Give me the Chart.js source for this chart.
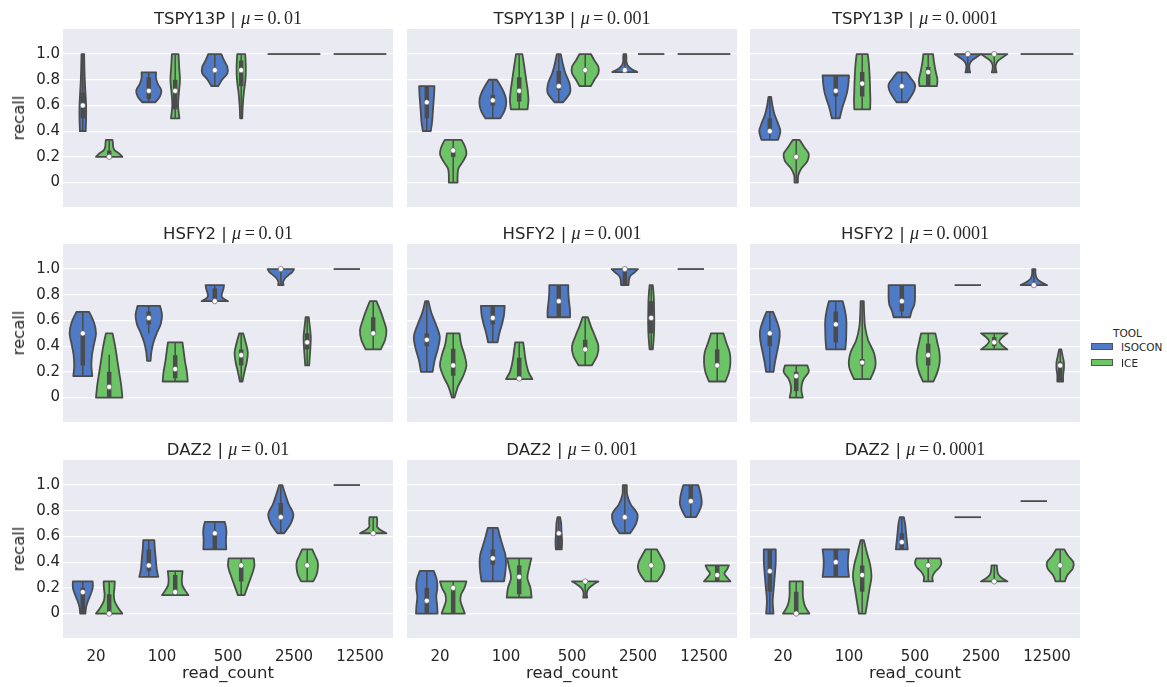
<!DOCTYPE html>
<html>
<head>
<meta charset="utf-8">
<script src="https://cdn.jsdelivr.net/npm/chart.js@4.4.1/dist/chart.umd.min.js"></script>
<style>
  body { margin: 0; background: #fff; }
  #fig { position: relative; width: 1167px; height: 687px; overflow: hidden; font-family: 'DejaVu Sans', sans-serif; color: #262626; }
  #fig canvas { position: absolute; }
  .txt { position: absolute; white-space: nowrap; line-height: 20px; }
  .title { font-size: 16.5px; transform: translateX(-50%); }
  .title .m { font-family: 'Liberation Serif', serif; font-size: 18px; }
  .ylab { font-size: 16.5px; transform: translate(-50%, -50%) rotate(-90deg); }
  .xlab { font-size: 16.5px; transform: translate(-50%, -50%); }
  .leg { font-size: 10.5px; transform: translateY(-50%); }
  .legbox { position: absolute; width: 22px; height: 7px; border: 0.8px solid #555; box-sizing: border-box; }
</style>
</head>
<body>
<div id="fig"></div>
<script>
const readCounts = ['20', '100', '500', '2500', '12500'];
const genes = ['TSPY13P', 'HSFY2', 'DAZ2'];
const mus = ['0.01', '0.001', '0.0001'];
const tools = ['ISOCON', 'ICE'];
const toolColors = ['#4f7ac6', '#6cc467'];
const yTicks = [0, 0.2, 0.4, 0.6, 0.8, 1.0];

// each violin: [min, max, q1, median, q3, half widths from min to max (1 = full), optional whiskers]
// a violin with min == max is a single value, drawn as a flat line
const tspy01Isocon = [
  [0.4, 1.0, 0.5, 0.6, 0.7, [0.22, 0.25, 0.25, 0.2, 0.15, 0.12, 0.1]],
  [0.625, 0.857, 0.65, 0.714, 0.82, [0.5, 0.85, 0.95, 0.7, 0.55, 0.55]],
  [0.75, 1.0, 0.875, 0.875, 0.875, [0.25, 0.55, 0.95, 0.95, 0.7, 0.5]],
  [1, 1],
  [1, 1]
];
const tspy01Ice = [
  [0.2, 0.333, 0.2, 0.2, 0.25, [1.0, 0.75, 0.4, 0.3, 0.28, 0.25]],
  [0.5, 1.0, 0.57, 0.714, 0.8, [0.32, 0.22, 0.28, 0.36, 0.3, 0.25]],
  [0.5, 1.0, 0.75, 0.875, 0.95, [0.08, 0.12, 0.2, 0.32, 0.35, 0.3]],
  [1, 1],
  [1, 1]
];
const tspy001Isocon = [
  [0.4, 0.75, 0.5, 0.625, 0.75, [0.3, 0.4, 0.45, 0.5, 0.55, 0.58]],
  [0.5, 0.8, 0.6, 0.64, 0.68, [0.57, 0.85, 1.0, 1.0, 0.85, 0.6, 0.3]],
  [0.625, 1.0, 0.72, 0.75, 0.87, [0.32, 0.85, 0.8, 0.5, 0.3, 0.15]],
  [0.86, 1.0, 0.875, 0.875, 0.875, [0.95, 0.45, 0.2, 0.12, 0.12, 0.1]],
  [1, 1]
];
const tspy001Ice = [
  [0.0, 0.333, 0.2, 0.25, 0.25, [0.33, 0.33, 0.4, 0.75, 1.0, 0.9, 0.63]],
  [0.57, 1.0, 0.63, 0.714, 0.82, [0.63, 0.7, 0.65, 0.55, 0.45, 0.35, 0.24]],
  [0.75, 1.0, 0.875, 0.875, 0.875, [0.42, 0.7, 1.0, 1.0, 0.7, 0.43]],
  [1, 1],
  [1, 1]
];
const tspy0001Isocon = [
  [0.333, 0.667, 0.4, 0.4, 0.5, [0.63, 0.8, 0.6, 0.35, 0.2, 0.1]],
  [0.5, 0.833, 0.67, 0.714, 0.83, [0.3, 0.45, 0.65, 0.85, 0.95, 1.0]],
  [0.625, 0.857, 0.75, 0.75, 0.75, [0.4, 0.7, 0.95, 1.0, 0.7, 0.35]],
  [0.857, 1.0, 1.0, 1.0, 1.0, [0.18, 0.12, 0.12, 0.25, 0.6, 1.0]],
  [1, 1]
];
const tspy0001Ice = [
  [0.0, 0.333, 0.18, 0.2, 0.2, [0.13, 0.15, 0.4, 0.85, 0.95, 0.6, 0.25]],
  [0.57, 1.0, 0.67, 0.77, 0.86, [0.6, 0.62, 0.6, 0.58, 0.55, 0.5, 0.42]],
  [0.75, 1.0, 0.75, 0.86, 0.9, [0.66, 0.7, 0.6, 0.5, 0.42, 0.37]],
  [0.857, 1.0, 1.0, 1.0, 1.0, [0.18, 0.12, 0.12, 0.25, 0.6, 1.0]],
  [1, 1]
];
const hsfy01Isocon = [
  [0.167, 0.667, 0.25, 0.5, 0.5, [0.72, 0.65, 0.7, 0.85, 1.0, 0.85, 0.48]],
  [0.286, 0.714, 0.57, 0.62, 0.67, [0.13, 0.2, 0.35, 0.6, 0.9, 1.0, 0.85], [0.5, 0.714]],
  [0.75, 0.875, 0.75, 0.75, 0.85, [1.0, 0.55, 0.55, 0.65, 0.7]],
  [0.875, 1.0, 1.0, 1.0, 1.0, [0.2, 0.18, 0.3, 0.55, 0.85, 1.0]],
  [1, 1]
];
const hsfy01Ice = [
  [0.0, 0.5, 0.0, 0.083, 0.2, [1.0, 0.9, 0.75, 0.6, 0.45, 0.25], [0, 0.333]],
  [0.125, 0.43, 0.15, 0.222, 0.33, [0.95, 0.88, 0.75, 0.65, 0.55]],
  [0.125, 0.5, 0.25, 0.33, 0.375, [0.1, 0.25, 0.42, 0.5, 0.35, 0.15]],
  [0.25, 0.625, 0.375, 0.43, 0.5, [0.15, 0.2, 0.25, 0.27, 0.2, 0.12]],
  [0.375, 0.75, 0.5, 0.5, 0.625, [0.57, 0.9, 1.0, 0.8, 0.55, 0.25]]
];
const hsfy001Isocon = [
  [0.2, 0.75, 0.4, 0.45, 0.5, [0.44, 0.6, 0.85, 0.98, 0.7, 0.35, 0.12]],
  [0.43, 0.714, 0.57, 0.62, 0.714, [0.36, 0.5, 0.7, 0.85, 0.9]],
  [0.625, 0.875, 0.625, 0.75, 0.875, [0.85, 0.85, 0.8, 0.75, 0.72, 0.72]],
  [0.875, 1.0, 0.875, 1.0, 1.0, [0.28, 0.3, 0.33, 0.45, 0.75, 1.0]],
  [1, 1]
];
const hsfy001Ice = [
  [0.0, 0.5, 0.17, 0.25, 0.38, [0.1, 0.35, 0.75, 1.0, 0.85, 0.6, 0.48]],
  [0.143, 0.43, 0.16, 0.148, 0.31, [1.0, 0.7, 0.55, 0.45, 0.38, 0.3]],
  [0.25, 0.625, 0.375, 0.375, 0.45, [0.5, 0.9, 1.0, 0.75, 0.45, 0.2]],
  [0.375, 0.875, 0.5, 0.62, 0.75, [0.12, 0.2, 0.23, 0.22, 0.2, 0.12]],
  [0.125, 0.5, 0.25, 0.25, 0.375, [0.62, 0.9, 1.0, 0.95, 0.7, 0.47]]
];
const hsfy0001Isocon = [
  [0.2, 0.667, 0.4, 0.5, 0.5, [0.28, 0.4, 0.55, 0.7, 0.75, 0.55, 0.25]],
  [0.375, 0.75, 0.43, 0.57, 0.67, [0.72, 0.78, 0.8, 0.8, 0.7, 0.52]],
  [0.625, 0.875, 0.67, 0.75, 0.875, [0.62, 0.75, 0.95, 1.0, 1.0, 1.0]],
  [0.875, 0.875],
  [0.875, 1.0, 0.875, 0.875, 0.875, [1.0, 0.55, 0.25, 0.15, 0.12, 0.12]]
];
const hsfy0001Ice = [
  [0.0, 0.25, 0.05, 0.167, 0.2, [0.5, 0.4, 0.42, 0.6, 0.95, 0.85]],
  [0.143, 0.75, 0.25, 0.273, 0.3, [0.62, 1.0, 0.9, 0.45, 0.22, 0.15, 0.12]],
  [0.125, 0.5, 0.25, 0.33, 0.42, [0.4, 0.7, 0.87, 0.85, 0.7, 0.54]],
  [0.375, 0.5, 0.4, 0.43, 0.47, [1.0, 0.6, 0.38, 0.6, 1.0]],
  [0.125, 0.375, 0.125, 0.25, 0.28, [0.22, 0.22, 0.28, 0.28, 0.18, 0.08]]
];
const daz01Isocon = [
  [0.0, 0.25, 0.0, 0.167, 0.2, [0.2, 0.25, 0.4, 0.6, 0.75, 0.75]],
  [0.286, 0.571, 0.33, 0.375, 0.5, [0.72, 0.6, 0.55, 0.5, 0.45, 0.42]],
  [0.5, 0.714, 0.5, 0.625, 0.625, [0.87, 0.85, 0.85, 0.88, 0.85, 0.75]],
  [0.625, 1.0, 0.75, 0.75, 0.86, [0.25, 0.75, 0.95, 0.6, 0.35, 0.12]],
  [1, 1]
];
const daz01Ice = [
  [0.0, 0.25, 0.0, 0.0, 0.15, [1.0, 0.65, 0.4, 0.35, 0.4, 0.42]],
  [0.143, 0.33, 0.15, 0.167, 0.3, [1.0, 0.75, 0.55, 0.5, 0.52, 0.56]],
  [0.143, 0.43, 0.25, 0.375, 0.375, [0.25, 0.45, 0.65, 0.85, 1.0, 0.95]],
  [0.25, 0.5, 0.375, 0.375, 0.375, [0.45, 0.7, 0.8, 0.8, 0.6, 0.38]],
  [0.625, 0.75, 0.625, 0.625, 0.625, [1.0, 0.55, 0.3, 0.3, 0.3, 0.28]]
];
const daz001Isocon = [
  [0.0, 0.333, 0.0, 0.1, 0.2, [0.82, 0.78, 0.72, 0.8, 0.75, 0.52]],
  [0.25, 0.667, 0.38, 0.43, 0.5, [0.85, 0.95, 1.0, 0.95, 0.75, 0.55, 0.38]],
  [0.5, 0.75, 0.5, 0.625, 0.625, [0.22, 0.25, 0.23, 0.2, 0.18, 0.1]],
  [0.625, 1.0, 0.75, 0.75, 0.75, [0.4, 0.85, 0.95, 0.45, 0.18, 0.15]],
  [0.75, 1.0, 0.86, 0.875, 1.0, [0.38, 0.65, 0.82, 0.8, 0.7, 0.56]]
];
const daz001Ice = [
  [0.0, 0.25, 0.0, 0.2, 0.2, [0.88, 0.7, 0.55, 0.6, 0.85, 1.0]],
  [0.125, 0.429, 0.15, 0.286, 0.375, [0.94, 0.85, 0.62, 0.75, 0.92]],
  [0.125, 0.25, 0.25, 0.25, 0.25, [0.15, 0.12, 0.15, 0.3, 0.6, 1.0]],
  [0.25, 0.5, 0.375, 0.375, 0.375, [0.44, 0.8, 1.0, 0.95, 0.7, 0.42]],
  [0.25, 0.375, 0.25, 0.3, 0.375, [1.0, 0.75, 0.55, 0.75, 0.88]]
];
const daz0001Isocon = [
  [0.0, 0.5, 0.17, 0.33, 0.5, [0.28, 0.22, 0.3, 0.38, 0.45, 0.45]],
  [0.286, 0.5, 0.286, 0.4, 0.5, [1.0, 0.95, 0.92, 0.92, 0.95, 1.0]],
  [0.5, 0.75, 0.5, 0.556, 0.625, [0.45, 0.4, 0.35, 0.3, 0.25, 0.15]],
  [0.75, 0.75],
  [0.875, 0.875]
];
const daz0001Ice = [
  [0.0, 0.25, 0.0, 0.0, 0.17, [1.0, 0.7, 0.55, 0.5, 0.5, 0.5]],
  [0.0, 0.571, 0.17, 0.3, 0.375, [0.25, 0.4, 0.55, 0.7, 0.6, 0.35, 0.12]],
  [0.25, 0.43, 0.375, 0.375, 0.375, [0.35, 0.32, 0.5, 0.85, 1.0, 0.9]],
  [0.25, 0.375, 0.25, 0.25, 0.25, [1.0, 0.6, 0.35, 0.25, 0.22, 0.2]],
  [0.25, 0.5, 0.375, 0.375, 0.375, [0.35, 0.55, 0.95, 1.0, 0.6, 0.3]]
];

const isoconPanels = [
  [tspy01Isocon, tspy001Isocon, tspy0001Isocon],
  [hsfy01Isocon, hsfy001Isocon, hsfy0001Isocon],
  [daz01Isocon, daz001Isocon, daz0001Isocon]
];
const icePanels = [
  [tspy01Ice, tspy001Ice, tspy0001Ice],
  [hsfy01Ice, hsfy001Ice, hsfy0001Ice],
  [daz01Ice, daz001Ice, daz0001Ice]
];

const edgeGray = '#4b4b4b';
const textColor = '#262626';
const plotLeft = [63, 407, 750];
const plotTop = [29, 244, 460];
const plotW = 330, plotH = 178;
const padTop = 16, padRight = 6, axisW = 63, axisH = 34;

// catmull-rom through the outline points
function smoothTo(ctx, pts) {
  for (let i = 0; i < pts.length - 1; i++) {
    const p0 = pts[Math.max(i - 1, 0)], p1 = pts[i], p2 = pts[i + 1], p3 = pts[Math.min(i + 2, pts.length - 1)];
    ctx.bezierCurveTo(
      p1.x + (p2.x - p0.x) / 6, p1.y + (p2.y - p0.y) / 6,
      p2.x - (p3.x - p1.x) / 6, p2.y - (p3.y - p1.y) / 6,
      p2.x, p2.y);
  }
}

function drawViolin(ctx, x, y, cx, v, color) {
  const [lo, hi, q1, med, q3, widths, whisk] = v;
  ctx.save();
  ctx.strokeStyle = edgeGray;
  ctx.lineJoin = 'round';
  ctx.lineWidth = 1.8;
  if (lo === hi) {
    const py = y.getPixelForValue(lo);
    ctx.beginPath();
    ctx.moveTo(x.getPixelForValue(cx - 0.2), py);
    ctx.lineTo(x.getPixelForValue(cx + 0.2), py);
    ctx.stroke();
    ctx.restore();
    return;
  }
  const n = widths.length;
  const right = widths.map((w, k) => ({
    x: x.getPixelForValue(cx + w * 0.2),
    y: y.getPixelForValue(lo + (hi - lo) * k / (n - 1))
  }));
  const left = widths.map((w, k) => ({
    x: x.getPixelForValue(cx - w * 0.2),
    y: y.getPixelForValue(lo + (hi - lo) * k / (n - 1))
  })).reverse();
  ctx.beginPath();
  ctx.moveTo(left[n - 1].x, left[n - 1].y);
  ctx.lineTo(right[0].x, right[0].y);
  smoothTo(ctx, right);
  ctx.lineTo(left[0].x, left[0].y);
  smoothTo(ctx, left);
  ctx.closePath();
  ctx.fillStyle = color;
  ctx.fill();
  ctx.stroke();

  const px = x.getPixelForValue(cx);
  const [wlo, whi] = whisk || [lo, hi];
  ctx.lineWidth = 1.5;
  ctx.beginPath();
  ctx.moveTo(px, y.getPixelForValue(wlo));
  ctx.lineTo(px, y.getPixelForValue(whi));
  ctx.stroke();
  if (q3 > q1) {
    ctx.lineWidth = 4.5;
    ctx.beginPath();
    ctx.moveTo(px, y.getPixelForValue(q1));
    ctx.lineTo(px, y.getPixelForValue(q3));
    ctx.stroke();
  }
  ctx.restore();
}

const violinPlugin = {
  id: 'violins',
  beforeDraw(chart) {
    const { ctx, chartArea: a } = chart;
    ctx.save();
    ctx.fillStyle = '#eaeaf2';
    ctx.fillRect(a.left, a.top, a.width, a.height);
    ctx.restore();
  },
  beforeDatasetsDraw(chart) {
    const { ctx, scales: { x, y } } = chart;
    chart.data.datasets.forEach(ds => {
      ds.violins.forEach((v, i) => drawViolin(ctx, x, y, i + ds.shift, v, ds.violinColor));
    });
  }
};

const fig = document.getElementById('fig');

function addText(cls, html, left, top) {
  const d = document.createElement('div');
  d.className = 'txt ' + cls;
  d.innerHTML = html;
  d.style.left = left + 'px';
  d.style.top = top + 'px';
  fig.appendChild(d);
  return d;
}

for (let r = 0; r < 3; r++) {
  for (let c = 0; c < 3; c++) {
    const canvas = document.createElement('canvas');
    canvas.width = axisW + plotW + padRight;
    canvas.height = padTop + plotH + axisH;
    canvas.style.left = (plotLeft[c] - axisW) + 'px';
    canvas.style.top = (plotTop[r] - padTop) + 'px';
    fig.appendChild(canvas);

    const groups = [isoconPanels[r][c], icePanels[r][c]];
    const datasets = tools.map((tool, t) => {
      const shift = t === 0 ? -0.2 : 0.2;
      return {
        label: tool,
        violins: groups[t],
        shift: shift,
        violinColor: toolColors[t],
        data: groups[t].filter(v => v[0] !== v[1]).map(v => ({ x: groups[t].indexOf(v) + shift, y: v[3] })),
        pointRadius: 2.6,
        pointBackgroundColor: '#ffffff',
        pointBorderColor: edgeGray,
        pointBorderWidth: 0.6,
        showLine: false
      };
    });

    new Chart(canvas, {
      type: 'scatter',
      data: { datasets },
      plugins: [violinPlugin],
      options: {
        responsive: false,
        animation: false,
        events: [],
        layout: { padding: { top: padTop, right: padRight, left: 0, bottom: 0 } },
        plugins: { legend: { display: false }, tooltip: { enabled: false } },
        scales: {
          x: {
            type: 'linear',
            min: -0.5,
            max: 4.5,
            afterBuildTicks: ax => { ax.ticks = readCounts.map((_, i) => ({ value: i })); },
            afterFit: ax => { ax.height = axisH; },
            grid: { display: false },
            border: { display: false },
            ticks: {
              display: r === 2,
              padding: 2,
              color: textColor,
              font: { family: 'DejaVu Sans', size: 15 },
              maxRotation: 0,
              autoSkip: false,
              callback: v => readCounts[v]
            }
          },
          y: {
            min: -0.19,
            max: 1.195,
            afterBuildTicks: ax => { ax.ticks = yTicks.map(v => ({ value: v })); },
            afterFit: ax => { ax.width = axisW; },
            grid: { color: '#ffffff', lineWidth: 1.2, drawTicks: false },
            border: { display: false },
            ticks: {
              display: c === 0,
              padding: 3,
              color: textColor,
              font: { family: 'DejaVu Sans', size: 15 },
              callback: v => (v === 0 ? '0' : v.toFixed(1))
            }
          }
        }
      }
    });

    const cx = plotLeft[c] + plotW / 2;
    const [whole, dec] = mus[c].split('.');
    addText('title', genes[r] + ' | <span class="m"><i>μ</i>&thinsp;=&thinsp;' + whole + '.<span style="margin-left:3px">' + dec + '</span></span>', cx, plotTop[r] - 21);
    if (c === 0) addText('ylab', 'recall', 19, plotTop[r] + plotH / 2);
    if (r === 2) addText('xlab', 'read_count', cx, 673);
  }
}

// legend
addText('leg', 'TOOL', 1113, 333);
tools.forEach((tool, t) => {
  const box = document.createElement('div');
  box.className = 'legbox';
  box.style.left = '1091px';
  box.style.top = (343 + t * 16) + 'px';
  box.style.background = toolColors[t];
  fig.appendChild(box);
  addText('leg', tool, 1121, 346.5 + t * 16);
});
</script>
</body>
</html>
